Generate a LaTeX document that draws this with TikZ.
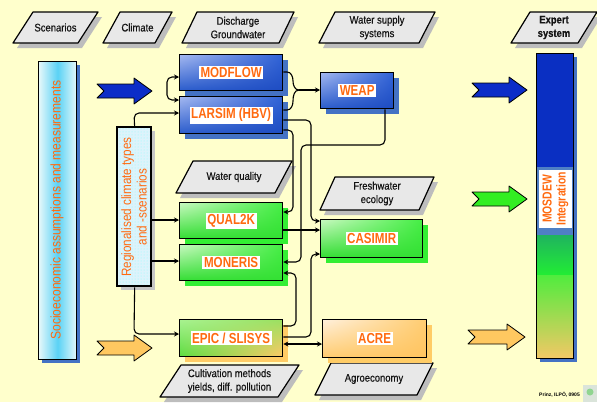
\documentclass[tikz,border=0pt]{standalone}
\usepackage{fontspec}
\setmainfont{Liberation Sans}
\newfontfamily\nf[FakeStretch=0.86]{Liberation Sans}
\newfontfamily\hf[FakeStretch=0.86,FakeBold=0.5]{Liberation Sans}
\newfontfamily\mf[FakeStretch=0.8]{Liberation Sans}
\usetikzlibrary{arrows.meta,shadings,shadows,patterns,calc}
\definecolor{bg}{HTML}{FFFFCC}
\definecolor{otxt}{HTML}{FF6A10}
\definecolor{ptxt}{HTML}{141414}
\definecolor{pfill}{HTML}{E8E8E8}
\definecolor{pshd}{HTML}{BDBDBD}
\definecolor{shblue}{HTML}{4472C4}
\definecolor{shgreen}{HTML}{33EE33}
\definecolor{shorange}{HTML}{FFCC66}
\definecolor{mblue}{HTML}{0A2FC2}
\definecolor{steel}{HTML}{4F7FC4}
\definecolor{arblue}{HTML}{0C2DC8}
\definecolor{argreen}{HTML}{33EE22}
\definecolor{arorange}{HTML}{FFC860}
\definecolor{cyanmid}{HTML}{5AD2F5}
\definecolor{cyanedge}{HTML}{E6F8FA}
\definecolor{regfill}{HTML}{DDF3FB}
\definecolor{bUL}{HTML}{A4B8F0}
\definecolor{bUR}{HTML}{2F62D6}
\definecolor{bLL}{HTML}{2A5CCC}
\definecolor{bLR}{HTML}{1E4CC2}
\definecolor{gUL}{HTML}{C8F8C0}
\definecolor{gUR}{HTML}{44EE44}
\definecolor{gLL}{HTML}{33DD33}
\definecolor{gLR}{HTML}{33E033}
\definecolor{oUL}{HTML}{FFF0DC}
\definecolor{oUR}{HTML}{FFCC70}
\definecolor{oLR}{HTML}{FFC460}
\definecolor{eUL}{HTML}{A8F290}
\definecolor{eUR}{HTML}{9AE060}
\definecolor{eLL}{HTML}{5CDC40}
\definecolor{eLR}{HTML}{FFC866}
\definecolor{mg1}{HTML}{1FB45E}
\definecolor{mg2}{HTML}{22EE33}
\definecolor{mg3}{HTML}{50EC3E}
\definecolor{mg4}{HTML}{F2C865}

\newcommand\para[7]{%
  \fill[pshd] ({#2+4},{#3+5}) -- ({#2+#5+4},{#4+5}) -- ({#2+#5+#6+4},{#4+5}) -- ({#2+#6+4},{#3+5}) -- cycle;
  \draw[parast] (#2,#3) -- ({#2+#5},#4) -- ({#2+#5+#6},#4) -- ({#2+#6},#3) -- cycle;
  \node[ptext] (#1) at ({#2+(#5+#6)/2},{(#3+#4)/2}) {#7};}

\newcommand\blk[4]{%
  \filldraw[fill=#4, draw=black, line width=0.8pt, line join=round]
    (#1,{#3-7}) -- ({#2-18},{#3-7}) -- ({#2-18},{#3-13}) -- (#2,#3) --
    ({#2-18},{#3+13}) -- ({#2-18},{#3+7}) -- (#1,{#3+7}) -- ({#1+7},#3) -- cycle;}

\begin{document}
\begin{tikzpicture}[x=1pt,y=-1pt,
  parast/.style={fill=pfill, draw=black, line width=1.2pt, line join=round},
  ptext/.style={text=ptxt, align=center, font=\hf\fontsize{11}{13.5}\selectfont, inner sep=0pt},
  mbox/.style={draw=black, line width=1.3pt, anchor=north west, inner sep=0pt},
  bbox/.style={mbox, upper left=bUL, upper right=bUR, lower left=bLL, lower right=bLR,
     drop shadow={shadow xshift=5pt, shadow yshift=-5pt, opacity=1, fill=shblue}},
  gbox/.style={mbox, upper left=gUL, upper right=gUR, lower left=gLL, lower right=gLR,
     drop shadow={shadow xshift=5pt, shadow yshift=-5pt, opacity=1, fill=shgreen}},
  obox/.style={mbox, upper left=oUL, upper right=oUR, lower left=oUR, lower right=oLR,
     drop shadow={shadow xshift=5pt, shadow yshift=-5pt, opacity=1, fill=shorange}},
  ebox/.style={mbox, upper left=eUL, upper right=eUR, lower left=eLL, lower right=eLR,
     drop shadow={shadow xshift=5pt, shadow yshift=-5pt, opacity=1, fill=shorange}},
  mlabel/.style={fill=white, inner sep=1.6pt, text=otxt, font=\mf\bfseries\fontsize{14.5}{16}\selectfont},
  conn/.style={line width=1.1pt, rounded corners=5pt},
  tip/.style={-{Stealth[length=5pt,width=5pt]}},
  tips/.style={{Stealth[length=5pt,width=5pt]}-{Stealth[length=5pt,width=5pt]}}
]
\useasboundingbox (0,0) rectangle (597,402);
\fill[bg] (0,0) rectangle (597,402);

% header parallelograms
\para{hScen}{13}{43}{12}{20}{65}{Scenarios}
\para{hClim}{103}{43}{12}{17}{52}{Climate}
\para{hDis}{182}{43}{12}{15}{97}{Discharge\\Groundwater}
\para{hWat}{319}{43}{12}{16}{100}{Water supply\\systems}
\para{hExp}{511}{43}{12}{19}{67}{\bfseries Expert\\\bfseries system}
\para{pWq}{176}{193}{161}{17}{99}{Water quality}
\para{pFe}{320}{210}{177}{15}{99}{Freshwater\\ecology}
\para{pCu}{160}{397}{365}{21}{118}{Cultivation methods\\yields, diff. pollution}
\para{pAg}{315}{395}{363}{16}{102}{Agroeconomy}

% socioeconomic box
\fill[shblue] (42,65) rectangle (80,363);
\node[mbox, minimum width=38pt, minimum height=298pt, left color=cyanedge, right color=cyanedge, middle color=cyanmid] (socio) at (38,61) {};
\node[rotate=90, text=otxt, font=\nf\fontsize{14}{16}\selectfont, inner sep=0pt] (socioT) at (57,210) {Socioeconomic assumptions and measurements};

% regionalised box
\fill[gray!45] (121,131) rectangle (155,290);
\node[mbox, minimum width=34pt, minimum height=159pt, fill=regfill] (regio) at (117,127) {};
\fill[pattern=dots, pattern color=cyan!45] (118,128) rectangle (150,285);
\draw[line width=1.3pt] (117,127) rectangle (151,286);
\node[rotate=90, text=otxt, align=center, font=\nf\fontsize{13.6}{15.5}\selectfont, inner sep=0pt] (regioT) at (134,207) {Regionalised climate types\\and -scenarios};

% block arrows
\blk{97}{152}{91}{arblue}
\blk{97}{152}{348}{arorange}
\blk{472}{527}{90}{arblue}
\blk{472}{527}{199}{argreen}
\blk{468}{525}{337}{arorange}

% model boxes
\node[bbox, minimum width=103pt, minimum height=36pt, label={[mlabel]center:MODFLOW}] (modflow) at (179,54) {};
\node[bbox, minimum width=103pt, minimum height=37pt, label={[mlabel]center:LARSIM (HBV)}] (larsim) at (179,96) {};
\node[bbox, minimum width=73pt, minimum height=36pt, label={[mlabel]center:WEAP}] (weap) at (320,72) {};
\node[gbox, minimum width=103pt, minimum height=36pt, label={[mlabel]center:QUAL2K}] (qual2k) at (179,202) {};
\node[gbox, minimum width=103pt, minimum height=36pt, label={[mlabel]center:MONERIS}] (moneris) at (179,244) {};
\node[gbox, minimum width=102pt, minimum height=38pt, label={[mlabel]center:CASIMIR}] (casimir) at (320,219) {};
\node[ebox, minimum width=103pt, minimum height=37pt, label={[mlabel]center:EPIC / SLISYS}] (epic) at (179,319) {};
\node[obox, minimum width=104pt, minimum height=38pt, label={[mlabel]center:ACRE}] (acre) at (322,319) {};

% MOSDEW column
\fill[shblue] (540,57) rectangle (577,362);
\fill[mblue] (536,53) rectangle (573,167);
\fill[steel] (536,167) rectangle (573,235);
\shade[top color=mg1, bottom color=mg2] (536,235) rectangle (573,276);
\shade[top color=mg3, bottom color=mg4] (536,275) rectangle (573,358);
\node[mbox, minimum width=37pt, minimum height=305pt] (mosdew) at (536,53) {};
\node[rotate=90, fill=white, text=otxt, align=center, minimum width=58pt, minimum height=33pt, inner sep=0pt,
      font=\mf\bfseries\fontsize{13}{14}\selectfont] (mosdewT) at (555.5,199) {MOSDEW\\Integration};

% connectors
\draw[conn, tips] (modflow.west |- 0,77) -- (167,77) -- (167,100) -- (larsim.west |- 0,100);
\draw[conn, tip] (regio.north) -- (134,113) -- (larsim.west |- 0,113);
\draw[conn, tip] (regio.east |- 0,220) -- (qual2k.west |- 0,220);
\draw[conn, tip] (regio.east |- 0,261) -- (moneris.west |- 0,261);
\draw[conn, tip] (regio.south) -- (134,334) -- (epic.west |- 0,334);
\draw[line width=1.1pt] (modflow.east |- 0,72) -- (287,72) to[out=0,in=90] (293,81) to[out=-90,in=180] (299,90);
\draw[line width=1.1pt] (larsim.east |- 0,110) -- (287,110) to[out=0,in=-90] (293,101) to[out=90,in=180] (299,90);
\draw[line width=1.1pt, tip] (299,90) -- (weap.west |- 0,90);
\draw[conn, tip] (larsim.east |- 0,120) -- (311,120) -- (311,221) -- (casimir.west |- 0,221);
\draw[conn, tip] (larsim.east |- 0,130) -- (293,130) -- (293,212) -- (qual2k.east |- 0,212);
\draw[conn, tip] (weap.south -| 385,0) -- (385,145) -- (301,145) -- (301,262) -- (moneris.east |- 0,262);
\draw[conn, tip] (qual2k.east |- 0,230) -- (casimir.west |- 0,230);
\draw[conn, tip] (epic.east |- 0,326) -- (296,326) -- (296,273) -- (moneris.east |- 0,273);
\draw[conn, tip] (epic.east |- 0,337) -- (311,337) -- (311,254) -- (casimir.west |- 0,254);
\draw[conn, tips] (epic.east |- 0,344) -- (acre.west |- 0,344);

% credit and logo
\node[anchor=east, font=\bfseries\fontsize{5}{6}\selectfont, inner sep=0pt] (credit) at (580,395) {Prinz, ILPÖ, 0905};
\fill[green!15!gray!25] (583,385) rectangle (597,402);
\fill[green!45!gray!60] (590,392) circle (3.5);
\end{tikzpicture}
\end{document}
